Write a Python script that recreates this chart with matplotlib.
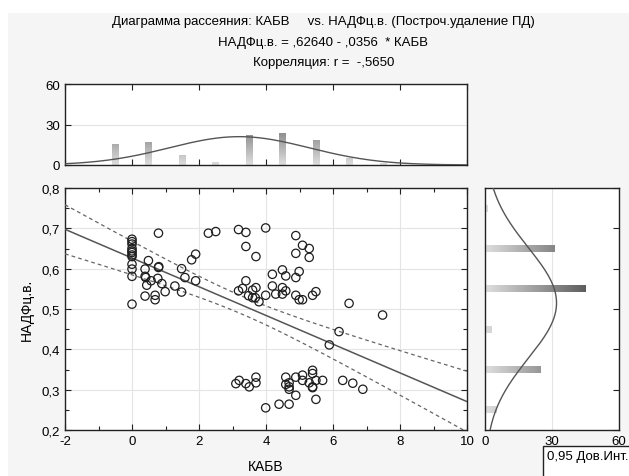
import numpy as np
import matplotlib
matplotlib.use("Agg")
import matplotlib.pyplot as plt
from matplotlib.colors import LinearSegmentedColormap
from matplotlib.patches import Rectangle
from matplotlib.ticker import MultipleLocator, FuncFormatter

plt.rcParams['font.family'] = ['Liberation Sans', 'DejaVu Sans']
plt.rcParams['axes.unicode_minus'] = False

# Scatter data (КАБВ, НАДФц.в.)
kabv = [0, 0, 0, 0, 0, 0, 0, 0, 0, 0, 0, 0,
        0.79, 0.39, 0.49, 0.39, 0.41, 0.79, 0.8, 0.77, 0.44, 0.57, 0.39, 0.69, 0.69,
        0.89, 0.99, 1.28, 1.48, 1.48, 1.58, 1.78, 1.9, 1.9,
        2.28, 2.5, 3.18, 3.4, 3.4, 3.7, 3.99, 3.4, 3.18, 3.3, 3.48, 3.6, 3.6, 3.7,
        3.68, 3.79, 3.99, 4.19, 4.19, 4.29, 4.49, 4.59, 4.49, 4.59, 4.49,
        4.89, 4.89, 4.89, 4.99, 4.89, 4.99, 5.09, 5.09, 5.29, 5.29, 5.39, 5.49,
        6.48, 7.48, 6.18, 5.89,
        3.1, 3.2, 3.4, 3.5, 3.7, 3.7, 3.99, 4.39, 4.69, 4.59, 4.59, 4.69, 4.69, 4.69,
        4.89, 4.89, 5.09, 5.09, 5.29, 5.39, 5.39, 5.39, 5.39, 5.49, 5.49, 5.69,
        6.29, 6.59, 6.89]
nadf = [0.673, 0.667, 0.661, 0.650, 0.644, 0.640, 0.634, 0.630, 0.611, 0.599, 0.581, 0.512,
        0.688, 0.599, 0.620, 0.581, 0.578, 0.603, 0.605, 0.576, 0.559, 0.570, 0.532, 0.534, 0.523,
        0.563, 0.543, 0.557, 0.600, 0.542, 0.578, 0.622, 0.636, 0.570,
        0.688, 0.692, 0.697, 0.690, 0.655, 0.630, 0.701, 0.570, 0.545, 0.551, 0.533, 0.528, 0.547, 0.553,
        0.528, 0.518, 0.534, 0.586, 0.557, 0.537, 0.597, 0.582, 0.553, 0.545, 0.537,
        0.682, 0.638, 0.578, 0.593, 0.534, 0.523, 0.523, 0.658, 0.650, 0.628, 0.534, 0.543,
        0.514, 0.485, 0.444, 0.411,
        0.315, 0.323, 0.315, 0.307, 0.331, 0.317, 0.255, 0.264, 0.264, 0.331, 0.313, 0.317, 0.307, 0.301,
        0.331, 0.286, 0.336, 0.323, 0.317, 0.348, 0.340, 0.307, 0.305, 0.323, 0.276, 0.323,
        0.323, 0.316, 0.301]

# Regression from the title
b0, b1 = 0.62640, -0.0356

# Histogram of КАБВ (top)
kabv_bins = [-0.5, 0.5, 1.5, 2.5, 3.5, 4.5, 5.5, 6.5, 7.5]
kabv_counts = [15, 17, 7, 2, 22, 23, 18, 5, 1]
kabv_mean, kabv_sd = 3.2, 2.09

# Histogram of НАДФц.в. (right)
nadf_bins = [0.75, 0.65, 0.55, 0.45, 0.35, 0.25]
nadf_counts = [1, 31, 45, 3, 25, 5]
nadf_mean, nadf_sd = 0.515, 0.137

W, H = 629, 477
fig = plt.figure(figsize=(W / 100, H / 100), dpi=100, facecolor='#f5f5f5')
# white margins at top and left
fig.patches.append(Rectangle((0, 1 - 14 / H), 1, 14 / H, transform=fig.transFigure,
                             facecolor='white', edgecolor='none', zorder=0))
fig.patches.append(Rectangle((0, 0), 8 / W, 1, transform=fig.transFigure,
                             facecolor='white', edgecolor='none', zorder=0))

def box(l, t, r, b):
    return [l / W, 1 - b / H, (r - l) / W, (b - t) / H]

ax = fig.add_axes(box(65, 189, 467, 431))
ax_top = fig.add_axes(box(65, 85, 467, 166))
ax_right = fig.add_axes(box(485, 189, 619, 431))

comma = FuncFormatter(lambda v, p: ('%g' % v).replace('.', ','))
frame_col = '#222222'
grid_col = '#e4e4e4'
cmap = LinearSegmentedColormap.from_list('g', ['#dedede', '#505050'])

for a in (ax, ax_top, ax_right):
    a.set_facecolor('white')
    for s in a.spines.values():
        s.set_color(frame_col)
        s.set_linewidth(1.0)
    a.tick_params(direction='in', length=4, width=0.8, colors=frame_col, labelsize=9.5,
                  labelcolor='black')
    a.tick_params(which='minor', direction='in', length=3, width=0.8, colors=frame_col)

# main scatter
x = np.array(kabv)
y = np.array(nadf)
ax.set_xlim(-2, 10)
ax.set_ylim(0.2, 0.8)
ax.xaxis.set_major_locator(MultipleLocator(2))
ax.xaxis.set_minor_locator(MultipleLocator(1))
ax.yaxis.set_major_locator(MultipleLocator(0.1))
ax.yaxis.set_minor_locator(MultipleLocator(0.05))
ax.yaxis.set_major_formatter(comma)
ax.tick_params(which='both', top=True, right=True)
ax.grid(True, which='major', color=grid_col, linewidth=0.8)
ax.set_axisbelow(True)

xs = np.linspace(-2, 10, 200)
yhat = b0 + b1 * xs
n = len(x)
resid = y - (b0 + b1 * x)
s = np.sqrt(np.sum(resid ** 2) / (n - 2))
sxx = np.sum((x - x.mean()) ** 2)
half = 1.984 * s * np.sqrt(1 / n + (xs - x.mean()) ** 2 / sxx)
ax.plot(xs, yhat, color='#555555', lw=1.1, zorder=3)
ax.plot(xs, yhat + half, color='#666666', lw=0.9, ls=(0, (3, 2.5)), zorder=3)
ax.plot(xs, yhat - half, color='#666666', lw=0.9, ls=(0, (3, 2.5)), zorder=3)
ax.scatter(x, y, s=36, facecolors='none', edgecolors='#1e1e1e', linewidths=0.9, zorder=4)
ax.set_xlabel('КАБВ', fontsize=10, labelpad=9)
ax.set_ylabel('НАДФц.в.', fontsize=10, labelpad=6)

# top histogram
ax_top.set_xlim(-2, 10)
ax_top.set_ylim(0, 60)
ax_top.set_yticks([0, 30, 60])
ax_top.xaxis.set_major_locator(MultipleLocator(2))
ax_top.tick_params(axis='x', labelbottom=False, top=True, bottom=True)
ax_top.grid(True, axis='y', color=grid_col, linewidth=0.8)
ax_top.set_axisbelow(True)
bw = 0.2
for c, h in zip(kabv_bins, kabv_counts):
    grad = np.linspace(h, 0, 60).reshape(-1, 1)
    ax_top.imshow(grad, extent=[c - bw / 2, c + bw / 2, 0, h], cmap=cmap, vmin=0, vmax=42,
                  aspect='auto', zorder=2, interpolation='bilinear')
xc = np.linspace(-2, 10, 200)
ax_top.plot(xc, sum(kabv_counts) * 1.0 * np.exp(-0.5 * ((xc - kabv_mean) / kabv_sd) ** 2)
            / (kabv_sd * np.sqrt(2 * np.pi)), color='#555555', lw=1.0, zorder=3)
ax_top.set_xlim(-2, 10)
ax_top.set_ylim(0, 60)

# right histogram
ax_right.set_xlim(0, 60)
ax_right.set_ylim(0.2, 0.8)
ax_right.set_xticks([0, 30, 60])
ax_right.yaxis.set_major_locator(MultipleLocator(0.1))
ax_right.tick_params(axis='y', labelleft=False, left=False, right=True)
ax_right.tick_params(axis='x', top=False, bottom=False)
ax_right.grid(True, axis='x', color=grid_col, linewidth=0.8)
ax_right.set_axisbelow(True)
bh = 0.017
for c, w in zip(nadf_bins, nadf_counts):
    grad = np.linspace(0, w, 60).reshape(1, -1)
    ax_right.imshow(grad, extent=[0, w, c - bh / 2, c + bh / 2], cmap=cmap, vmin=0, vmax=50,
                    aspect='auto', zorder=2, interpolation='bilinear')
yc = np.linspace(0.2, 0.8, 200)
ax_right.plot(sum(nadf_counts) * 0.1 * np.exp(-0.5 * ((yc - nadf_mean) / nadf_sd) ** 2)
              / (nadf_sd * np.sqrt(2 * np.pi)), yc, color='#555555', lw=1.0, zorder=3)
ax_right.set_xlim(0, 60)
ax_right.set_ylim(0.2, 0.8)

# titles
fig.text(0.514, 1 - 22 / H, 'Диаграмма рассеяния: КАБВ     vs. НАДФц.в. (Построч.удаление ПД)',
         ha='center', va='center', fontsize=9.5)
fig.text(0.514, 1 - 43 / H, 'НАДФц.в. = ,62640 - ,0356  * КАБВ', ha='center', va='center', fontsize=9.5)
fig.text(0.514, 1 - 63 / H, 'Корреляция: r =  -,5650', ha='center', va='center', fontsize=9.5)

# legend box
fig.patches.append(Rectangle((543 / W, -0.05), 0.2, (477 - 447) / H + 0.05,
                             transform=fig.transFigure, facecolor='white',
                             edgecolor='#222222', lw=1.0, zorder=5))
fig.text(547 / W, 1 - 457 / H, '0,95 Дов.Инт.', ha='left', va='center', fontsize=9.5, zorder=6)

fig.savefig('out.png', dpi=100, facecolor=fig.get_facecolor())
